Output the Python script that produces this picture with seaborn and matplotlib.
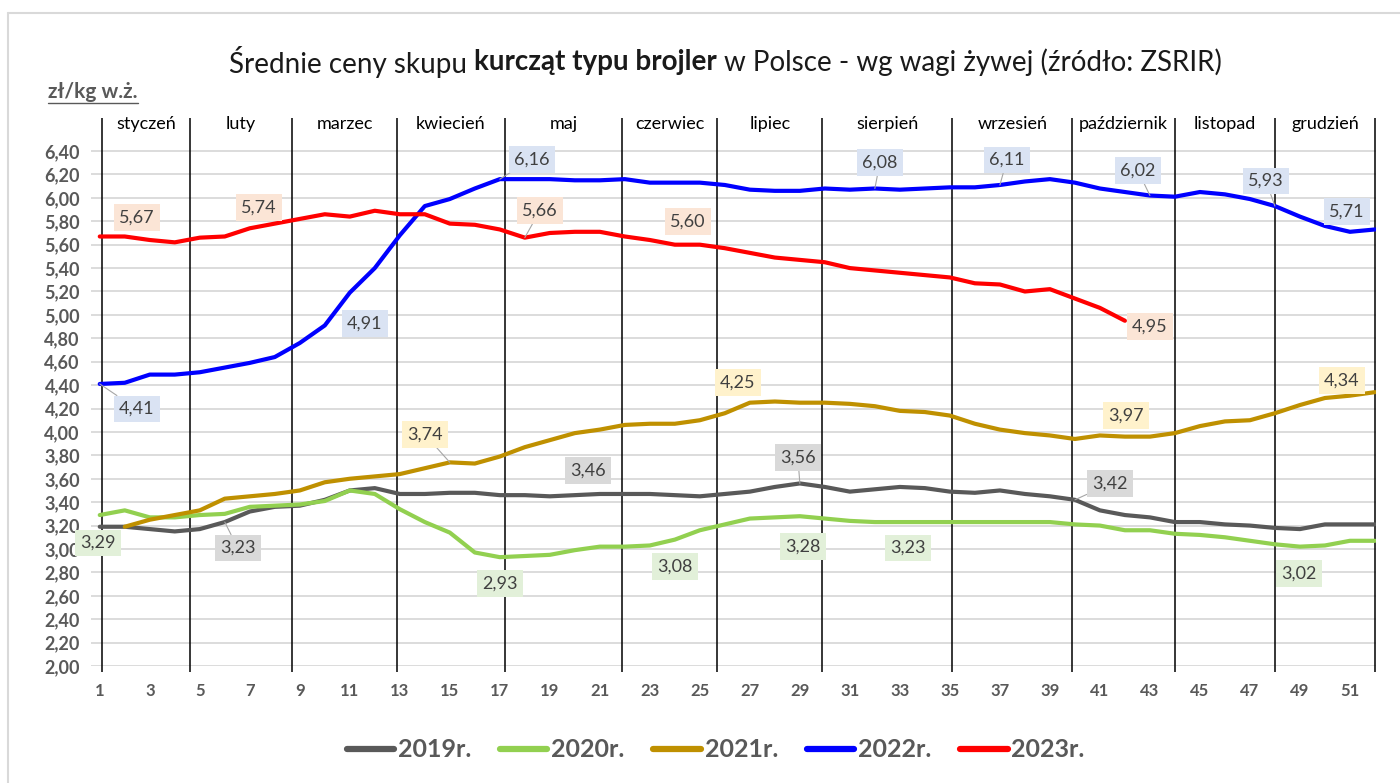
import numpy as np
import pandas as pd
import matplotlib
matplotlib.use("Agg")
import matplotlib.pyplot as plt
import seaborn as sns
from matplotlib.lines import Line2D

# --- data (weekly prices, zl/kg live weight) ---
weeks = list(range(1, 53))
p2019 = [3.19, 3.19, 3.17, 3.15, 3.17, 3.23, 3.32, 3.36, 3.37, 3.42,
         3.50, 3.52, 3.47, 3.47, 3.48, 3.48, 3.46, 3.46, 3.45, 3.46,
         3.47, 3.47, 3.47, 3.46, 3.45, 3.47, 3.49, 3.53, 3.56, 3.53,
         3.49, 3.51, 3.53, 3.52, 3.49, 3.48, 3.50, 3.47, 3.45, 3.42,
         3.33, 3.29, 3.27, 3.23, 3.23, 3.21, 3.20, 3.18, 3.17, 3.21,
         3.21, 3.21]
p2020 = [3.29, 3.33, 3.27, 3.27, 3.29, 3.30, 3.36, 3.37, 3.38, 3.41,
         3.50, 3.47, 3.34, 3.23, 3.14, 2.97, 2.93, 2.94, 2.95, 2.99,
         3.02, 3.02, 3.03, 3.08, 3.16, 3.21, 3.26, 3.27, 3.28, 3.26,
         3.24, 3.23, 3.23, 3.23, 3.23, 3.23, 3.23, 3.23, 3.23, 3.21,
         3.20, 3.16, 3.16, 3.13, 3.12, 3.10, 3.07, 3.04, 3.02, 3.03,
         3.07, 3.07]
p2021 = [np.nan, 3.19, 3.25, 3.29, 3.33, 3.43, 3.45, 3.47, 3.50, 3.57,
         3.60, 3.62, 3.64, 3.69, 3.74, 3.73, 3.79, 3.87, 3.93, 3.99,
         4.02, 4.06, 4.07, 4.07, 4.10, 4.16, 4.25, 4.26, 4.25, 4.25,
         4.24, 4.22, 4.18, 4.17, 4.14, 4.07, 4.02, 3.99, 3.97, 3.94,
         3.97, 3.96, 3.96, 3.99, 4.05, 4.09, 4.10, 4.16, 4.23, 4.29,
         4.31, 4.34]
p2022 = [4.41, 4.42, 4.49, 4.49, 4.51, 4.55, 4.59, 4.64, 4.76, 4.91,
         5.19, 5.40, 5.68, 5.93, 5.99, 6.08, 6.16, 6.16, 6.16, 6.15,
         6.15, 6.16, 6.13, 6.13, 6.13, 6.11, 6.07, 6.06, 6.06, 6.08,
         6.07, 6.08, 6.07, 6.08, 6.09, 6.09, 6.11, 6.14, 6.16, 6.13,
         6.08, 6.05, 6.02, 6.01, 6.05, 6.03, 5.99, 5.93, 5.84, 5.76,
         5.71, 5.73]
p2023 = [5.67, 5.67, 5.64, 5.62, 5.66, 5.67, 5.74, 5.78, 5.82, 5.86,
         5.84, 5.89, 5.86, 5.86, 5.78, 5.77, 5.73, 5.66, 5.70, 5.71,
         5.71, 5.67, 5.64, 5.60, 5.60, 5.57, 5.53, 5.49, 5.47, 5.45,
         5.40, 5.38, 5.36, 5.34, 5.32, 5.27, 5.26, 5.20, 5.22, 5.14,
         5.06, 4.95] + [np.nan] * 10

years = ["2019r.", "2020r.", "2021r.", "2022r.", "2023r."]
series = [p2019, p2020, p2021, p2022, p2023]
colors = ["#595959", "#92d050", "#bf9000", "#0000ff", "#ff0000"]
box_colors = ["#d9d9d9", "#e2f0d9", "#fff2cc", "#dae3f3", "#fbe5d6"]

months = ["styczeń", "luty", "marzec", "kwiecień", "maj", "czerwiec", "lipiec",
          "sierpień", "wrzesień", "październik", "listopad", "grudzień"]
month_bounds = [1.1, 4.6, 8.7, 12.9, 17.2, 21.9, 25.7, 29.9, 35.1, 39.9, 44.0, 48.0, 52.0]

# labelled weeks per year: (week, dx px, dy px, leader line)
callouts = {
    "2019r.": [(6, 13, -26, True), (20, 13, 25, False), (29, -2, 26, True), (40, 35, 16, True)],
    "2020r.": [(1, -2, -28, False), (17, 0, -26, False), (24, 0, -27, False),
               (29, 3, -30, False), (33, 8, -26, False), (49, -1, -27, False)],
    "2021r.": [(15, -25, 28, True), (27, -12, 20, False), (41, 26, 20, False), (52, -33, 12, False)],
    "2022r.": [(1, 37, -25, True), (10, 40, 2, False), (17, 32, 20, True), (32, 5, 26, True),
               (37, 7, 25, True), (43, -12, 25, True), (48, -9, 25, True), (51, -3, 20, False)],
    "2023r.": [(1, 37, 19, False), (7, 9, 21, False), (18, 15, 27, True), (24, 13, 23, False),
               (42, 25, -6, False)],
}

frames = []
for yr, vals in zip(years, series):
    frames.append(pd.DataFrame({"week": weeks, "price": vals, "year": yr}))
df = pd.concat(frames).dropna()

sns.set_theme(style="white")
plt.rcParams["font.family"] = ["Lato", "DejaVu Sans"]

fig = plt.figure(figsize=(14, 7.83), dpi=100)
ax = fig.add_axes([0.065, 0.1494, 0.918, 0.710])

sns.lineplot(data=df, x="week", y="price", hue="year", hue_order=years,
             palette=colors, linewidth=3.0, errorbar=None, ax=ax)

ax.set_xlim(0.65, 52.05)
ax.set_ylim(2.0, 6.75)
yt = np.arange(2.0, 6.41, 0.2)
ax.set_yticks(yt)
ax.set_yticklabels([f"{v:.2f}".replace(".", ",") for v in yt],
                   fontsize=13, fontweight="bold", color="#595959")
xt = list(range(1, 53, 2))
ax.set_xticks(xt)
ax.set_xticklabels([str(v) for v in xt], fontsize=12, fontweight="bold", color="#595959")
ax.tick_params(axis="both", length=0)
ax.tick_params(axis="y", pad=8)
ax.tick_params(axis="x", pad=12)
ax.set_xlabel("")
ax.set_ylabel("")
ax.yaxis.grid(True, color="#d9d9d9", lw=1.3)
ax.xaxis.grid(False)
for s in ax.spines.values():
    s.set_visible(False)

# month separators and names
ax.vlines(month_bounds, 1.95, 6.68, colors="black", lw=1.1, clip_on=False, zorder=1)
for i, name in enumerate(months):
    mid = (month_bounds[i] + month_bounds[i + 1]) / 2
    ax.text(mid, 6.63, name, ha="center", va="center", fontsize=13, color="black")

# value callouts
for yr, vals, bc in zip(years, series, box_colors):
    for wk, dx, dy, leader in callouts[yr]:
        v = vals[wk - 1]
        arrow = dict(arrowstyle="-", color="#a6a6a6", lw=0.8, shrinkA=0, shrinkB=0) if leader else None
        ax.annotate(f"{v:.2f}".replace(".", ","), xy=(wk, v), xytext=(dx, dy),
                    textcoords="offset pixels", ha="center", va="center",
                    fontsize=13, color="#404040",
                    bbox=dict(boxstyle="square,pad=0.3", fc=bc, ec="none"),
                    arrowprops=arrow, zorder=5)

# legend
sns.move_legend(ax, "center", bbox_to_anchor=(0.486, -0.151), ncol=5, frameon=False,
                title=None, handlelength=1.9, handletextpad=0.15, columnspacing=1.15,
                prop=dict(family=["Lato", "DejaVu Sans"], weight="bold", size=18))
leg = ax.get_legend()
for t in leg.get_texts():
    t.set_color("#595959")
for h in leg.get_lines():
    h.set_linewidth(4.5)

# title with bold middle part
fig.canvas.draw()
r = fig.canvas.get_renderer()
parts = [("Średnie ceny skupu", "normal"), ("kurcząt typu brojler", "bold"),
         ("w Polsce - wg wagi żywej (źródło: ZSRIR)", "normal")]
tsize = 20
probe1 = fig.text(0, 0, "x x", fontsize=tsize)
probe2 = fig.text(0, 0, "xx", fontsize=tsize)
gap = probe1.get_window_extent(r).width - probe2.get_window_extent(r).width
probe1.remove()
probe2.remove()
texts = [fig.text(0, 1 - 62 / 783, s, fontsize=tsize, fontweight=w, va="center", color="#1a1a1a")
         for s, w in parts]
widths = [t.get_window_extent(r).width for t in texts]
total = sum(widths) + gap * (len(widths) - 1)
x0 = 725 - total / 2
for t, w in zip(texts, widths):
    t.set_x(x0 / 1400)
    x0 += w + gap

# unit label, underlined
unit = fig.text(48 / 1400, 1 - 92 / 783, "zł/kg w.ż.", fontsize=15, fontweight="bold",
                color="#595959", va="center")
bb = unit.get_window_extent(r)
fig.add_artist(Line2D([bb.x0 / 1400, bb.x1 / 1400], [(bb.y0 - 1) / 783] * 2,
                      transform=fig.transFigure, color="#595959", lw=1.0))

# chart border
fig.add_artist(Line2D([8 / 1400, 1.0], [1 - 13 / 783] * 2, transform=fig.transFigure,
                      color="#d9d9d9", lw=1.5))
fig.add_artist(Line2D([8 / 1400] * 2, [0, 1 - 13 / 783], transform=fig.transFigure,
                      color="#d9d9d9", lw=1.5))

fig.savefig("out.png", dpi=100)
